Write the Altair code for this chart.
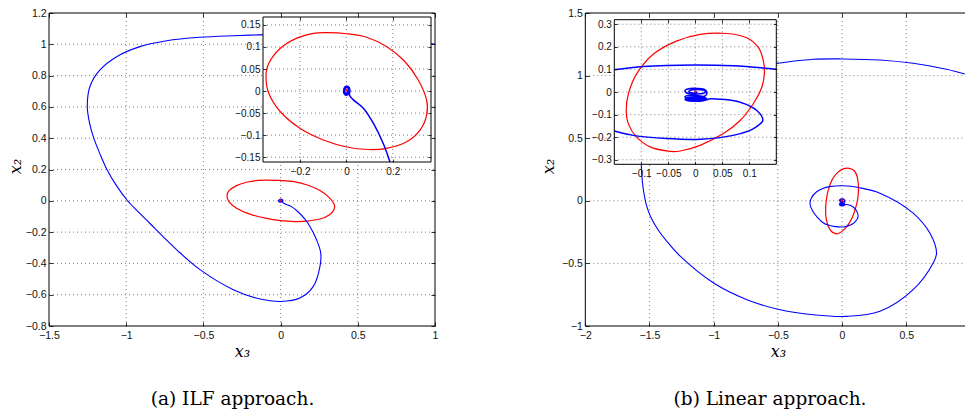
import altair as alt
import pandas as pd

W, H = 965, 412

# ---------------- panel (a): ILF approach ----------------
a_x_domain = [-1.5, 1]
a_y_domain = [-0.8, 1.2]
a_x_ticks = [-1.5, -1, -0.5, 0, 0.5, 1]
a_y_ticks = [-0.8, -0.6, -0.4, -0.2, 0, 0.2, 0.4, 0.6, 0.8, 1, 1.2]
a_in_x_domain = [-0.36, 0.365]
a_in_y_domain = [-0.161, 0.168]
a_in_x_ticks = [-0.2, 0, 0.2]
a_in_y_ticks = [-0.15, -0.1, -0.05, 0, 0.05, 0.1, 0.15]

a_traj_x = [1.0, 0.8, 0.6, 0.4, 0.2, 0.0, -0.15, -0.306, -0.522, -0.738, -0.911, -1.062,
            -1.17, -1.235, -1.252, -1.238, -1.21, -1.17, -1.125, -1.065, -0.995, -0.92,
            -0.846, -0.76, -0.673, -0.522, -0.306, -0.133, 0.0, 0.125, 0.212, 0.255, 0.26,
            0.233, 0.188, 0.159, 0.116, 0.073, 0.030, 0.013,
            0.015, 0.012, 0.003, -0.007, -0.012, -0.011, -0.004, 0.006, 0.012, 0.013, 0.008,
            -0.001, -0.009, -0.011, -0.007, 0.002, 0.009, 0.010, 0.005, -0.003, -0.007,
            -0.005, 0.001, 0.004, 0.001]
a_traj_y = [1.0, 1.03, 1.045, 1.055, 1.06, 1.062, 1.06, 1.055, 1.045, 1.023, 0.985, 0.921,
            0.836, 0.73, 0.602, 0.5, 0.4, 0.3, 0.2, 0.1, 0.005, -0.073,
            -0.145, -0.23, -0.313, -0.44, -0.568, -0.628, -0.643, -0.621, -0.547, -0.419, -0.334,
            -0.249, -0.161, -0.119, -0.073, -0.039, -0.020, -0.009,
            0.0, 0.008, 0.011, 0.009, 0.002, -0.005, -0.009, -0.008, -0.003, 0.004, 0.009,
            0.010, 0.006, -0.001, -0.007, -0.008, -0.004, 0.003, 0.007, 0.007, 0.002,
            -0.004, -0.005, -0.001, 0.002]
a_ell_x = [-0.085, 0.001, 0.087, 0.173, 0.252, 0.310, 0.346, 0.346, 0.317, 0.260, 0.173,
           0.095, 0.001, -0.099, -0.199, -0.285, -0.335, -0.347, -0.335, -0.285, -0.214, -0.142]
a_ell_y = [0.1326, 0.130, 0.122, 0.101, 0.067, 0.025, -0.020, -0.055, -0.089, -0.115, -0.130,
           -0.1326, -0.127, -0.111, -0.085, -0.047, -0.005, 0.033, 0.063, 0.097, 0.120, 0.131]
a_end_x = [0.0]
a_end_y = [0.002]

# ---------------- panel (b): Linear approach ----------------
b_x_domain = [-2, 1]
b_y_domain = [-1, 1.5]
b_x_ticks = [-2, -1.5, -1, -0.5, 0, 0.5]
b_y_ticks = [-1, -0.5, 0, 0.5, 1, 1.5]
b_in_x_domain = [-0.15, 0.15]
b_in_y_domain = [-0.32, 0.32]
b_in_x_ticks = [-0.1, -0.05, 0, 0.05, 0.1]
b_in_y_ticks = [-0.3, -0.2, -0.1, 0, 0.1, 0.2, 0.3]

b_traj_x = [0.956, 0.813, 0.554, 0.295, 0.0, -0.223, -0.51, -0.8, -1.1, -1.35, -1.5, -1.55,
            -1.563, -1.557, -1.545, -1.525, -1.49, -1.44, -1.36, -1.259, -1.0, -0.741, -0.482,
            -0.223, 0.036, 0.295, 0.554, 0.71, 0.736, 0.684, 0.554, 0.295, 0.15, 0.07, 0.0,
            -0.096, -0.15, -0.2, -0.24, -0.249, -0.23, -0.19, -0.15, -0.115, -0.053, 0.009,
            0.07, 0.107, 0.125, 0.114, 0.083, 0.046, 0.025,
            0.021, 0.012, -0.002, -0.015, -0.019, -0.012, 0.003, 0.017,
            0.021, 0.014, 0.0, -0.014, -0.018, -0.010, 0.005, 0.018,
            0.020, 0.012, -0.002, -0.016, -0.019, -0.012, 0.003, 0.017,
            0.021, 0.021, 0.016, 0.004, -0.010, -0.019, -0.017, -0.006, 0.009, 0.019,
            0.015, 0.003, -0.009, -0.012, -0.005, 0.003, 0.001]
b_traj_y = [1.013, 1.051, 1.098, 1.125, 1.133, 1.130, 1.098, 1.06, 0.98, 0.85, 0.65, 0.45,
            0.29, 0.17, 0.07, -0.03, -0.13, -0.221, -0.33, -0.444, -0.657, -0.79, -0.87,
            -0.91, -0.923, -0.883, -0.71, -0.497, -0.418, -0.258, -0.098, 0.061, 0.101, 0.116,
            0.12, 0.113, 0.098, 0.07, 0.02, -0.03, -0.08, -0.135, -0.173, -0.192, -0.206,
            -0.209, -0.192, -0.163, -0.126, -0.082, -0.045, -0.032, -0.031,
            -0.035, -0.040, -0.041, -0.038, -0.033, -0.029, -0.028, -0.030,
            -0.031, -0.036, -0.037, -0.034, -0.028, -0.023, -0.022, -0.025,
            -0.027, -0.031, -0.032, -0.028, -0.021, -0.016, -0.016, -0.019,
            -0.010, 0.002, 0.012, 0.016, 0.015, 0.007, -0.003, -0.009, -0.008, -0.001,
            0.008, 0.011, 0.008, 0.001, -0.004, -0.002, 0.002]
b_ell_x = [0.058, 0.095, 0.117, 0.126, 0.128, 0.123, 0.107, 0.083, 0.052, 0.009, -0.028,
           -0.050, -0.084, -0.109, -0.124, -0.128, -0.124, -0.109, -0.078, -0.035, 0.009]
b_ell_y = [0.259, 0.240, 0.196, 0.138, 0.086, 0.020, -0.053, -0.126, -0.184, -0.236, -0.261,
           -0.262, -0.243, -0.199, -0.141, -0.082, -0.009, 0.079, 0.167, 0.225, 0.255]
b_end_x = [0.0]
b_end_y = [0.003]

captions = ["(a) ILF approach.", "(b) Linear approach."]

# ---------------- layout (pixel frames of each plot box) ----------------
A_MAIN = {"x": (49, 435), "y": (13, 326)}
A_INSET = {"x": (263, 431), "y": (17, 162)}
B_MAIN = {"x": (585.3, 970.4), "y": (13, 326)}
B_INSET = {"x": (614.3, 776.3), "y": (19.7, 164.3)}

BLUE = "#0000ff"
RED = "#ff0000"
LABEL_FONT = "Liberation Sans"
MATH_FONT = "DejaVu Serif"


def curve_df(xs, ys, xd=None, yd=None):
    rows, seg, prev_in = [], 0, False
    for i, (x, y) in enumerate(zip(xs, ys)):
        inside = True
        if xd is not None:
            eps = 1e-9
            inside = (xd[0] - eps <= x <= xd[1] + eps) and (yd[0] - eps <= y <= yd[1] + eps)
        if inside:
            if not prev_in:
                seg += 1
            rows.append({"x": x, "y": y, "i": i, "seg": seg})
        prev_in = inside
    return pd.DataFrame(rows)


def make_view(xd, yd, fr, xt, yt, fs, curves, points, inset,
              xtitle="", ytitle="", xtitle_pos=None, ytitle_pos=None):
    x0, x1 = fr["x"]
    y0, y1 = fr["y"]
    xs = alt.Scale(domain=xd, range=[x0, x1], nice=False, zero=False)
    ys = alt.Scale(domain=yd, range=[y1, y0], nice=False, zero=False)
    frame = pd.DataFrame({"x0": [xd[0]], "x1": [xd[1]], "y0": [yd[0]], "y1": [yd[1]]})

    def X(f, axis=None):
        return alt.X(f, scale=xs, axis=axis)

    def Y(f, axis=None):
        return alt.Y(f, scale=ys, axis=axis)

    layers = []
    if inset:
        layers.append(alt.Chart(frame).mark_rect(fill="white").encode(
            x=X("x0:Q"), x2="x1:Q", y=Y("y0:Q"), y2="y1:Q"))

    # dotted grid
    gx = pd.DataFrame({"x": [v for v in xt if xd[0] < v < xd[1]]})
    gx["y0"], gx["y1"] = yd[0], yd[1]
    gy = pd.DataFrame({"y": [v for v in yt if yd[0] < v < yd[1]]})
    gy["x0"], gy["x1"] = xd[0], xd[1]
    grid = dict(color="#707070", strokeDash=[1, 3], strokeWidth=0.9)
    layers.append(alt.Chart(gx).mark_rule(**grid).encode(x=X("x:Q"), y=Y("y0:Q"), y2="y1:Q"))
    layers.append(alt.Chart(gy).mark_rule(**grid).encode(y=Y("y:Q"), x=X("x0:Q"), x2="x1:Q"))

    for df, kw in curves:
        layers.append(alt.Chart(df).mark_line(**kw).encode(
            x=X("x:Q"), y=Y("y:Q"), order="i:Q", detail="seg:N"))
    for df, kw in points:
        layers.append(alt.Chart(df).mark_point(**kw).encode(x=X("x:Q"), y=Y("y:Q")))

    # axes: labels + inward ticks on all four sides
    common = dict(domain=False, grid=False, zindex=1, title="")
    lab = dict(labelFont=LABEL_FONT, labelFontSize=fs, labelColor="#111", labelFlush=False,
               labelOverlap=False, format="~g", ticks=False, tickSize=0, labels=True)
    tk = dict(labels=False, ticks=True, tickSize=4 if not inset else 3, tickColor="#000",
              tickWidth=0.8)
    xt_kw = dict(common)
    yt_kw = dict(common)
    if xtitle:
        xt_kw.update(title=xtitle, titleFont=MATH_FONT, titleFontStyle="italic",
                     titleFontWeight="normal", titleFontSize=16, titleColor="#000",
                     titleX=xtitle_pos[0], titleY=xtitle_pos[1], titleAlign="center",
                     titleBaseline="middle")
    if ytitle:
        yt_kw.update(title=ytitle, titleFont=MATH_FONT, titleFontStyle="italic",
                     titleFontWeight="normal", titleFontSize=16, titleColor="#000",
                     titleX=ytitle_pos[0], titleY=ytitle_pos[1], titleAlign="center",
                     titleBaseline="middle", titleAngle=270)
    ax_sets = [
        (alt.Axis(orient="bottom", offset=y1 - H, values=xt, labelPadding=4, **lab, **xt_kw),
         alt.Axis(orient="left", offset=-x0, values=yt, labelPadding=3, **lab, **yt_kw)),
        (alt.Axis(orient="top", offset=-y1, values=xt, **tk, **common),
         alt.Axis(orient="right", offset=x0 - W, values=yt, **tk, **common)),
        (alt.Axis(orient="bottom", offset=y0 - H, values=xt, **tk, **common),
         alt.Axis(orient="left", offset=-x1, values=yt, **tk, **common)),
    ]
    for k, (ax, ay) in enumerate(ax_sets):
        layers.append(alt.Chart(frame).mark_rect(
            fillOpacity=0, stroke="#000", strokeWidth=1.0 if k == 0 else 0,
            strokeOpacity=1 if k == 0 else 0).encode(
            x=X("x0:Q", ax), x2="x1:Q", y=Y("y0:Q", ay), y2="y1:Q"))
    return alt.layer(*layers).resolve_axis(x="independent", y="independent")


line_main_b = dict(color=BLUE, strokeWidth=1.1, interpolate="catmull-rom")
line_in_b = dict(color=BLUE, strokeWidth=1.5, interpolate="catmull-rom")
line_red = dict(color=RED, strokeWidth=1.2, interpolate="cardinal-closed")
dot = dict(color=RED, filled=True, size=6, opacity=1, shape="square")

A_main = make_view(
    a_x_domain, a_y_domain, A_MAIN, a_x_ticks, a_y_ticks, 10.5,
    [(curve_df(a_ell_x, a_ell_y), line_red), (curve_df(a_traj_x, a_traj_y), line_main_b)],
    [(curve_df(a_end_x, a_end_y), dot)], False,
    xtitle="x₃", ytitle="x₂", xtitle_pos=(242, 25), ytitle_pos=(-34, 166))
A_in = make_view(
    a_in_x_domain, a_in_y_domain, A_INSET, a_in_x_ticks, a_in_y_ticks, 10,
    [(curve_df(a_ell_x, a_ell_y), line_red),
     (curve_df(a_traj_x, a_traj_y, a_in_x_domain, a_in_y_domain), line_in_b)],
    [(curve_df(a_end_x, a_end_y), dict(dot, size=5))], True)
B_main = make_view(
    b_x_domain, b_y_domain, B_MAIN, b_x_ticks, b_y_ticks, 10.5,
    [(curve_df(b_ell_x, b_ell_y), line_red), (curve_df(b_traj_x, b_traj_y), line_main_b)],
    [(curve_df(b_end_x, b_end_y), dot)], False,
    xtitle="x₃", ytitle="x₂", xtitle_pos=(778, 25), ytitle_pos=(-37, 166))
B_in = make_view(
    b_in_x_domain, b_in_y_domain, B_INSET, b_in_x_ticks, b_in_y_ticks, 10,
    [(curve_df(b_ell_x, b_ell_y), line_red),
     (curve_df(b_traj_x, b_traj_y, b_in_x_domain, b_in_y_domain), line_in_b)],
    [(curve_df(b_end_x, b_end_y), dict(dot, size=4))], True)

cap_kw = dict(font=MATH_FONT, fontSize=18.5, color="#000", align="center", baseline="middle")
cap_a = alt.Chart(pd.DataFrame({"t": [captions[0]]})).mark_text(**cap_kw).encode(
    text="t:N", x=alt.value(232.5), y=alt.value(399))
cap_b = alt.Chart(pd.DataFrame({"t": [captions[1]]})).mark_text(**cap_kw).encode(
    text="t:N", x=alt.value(770), y=alt.value(399))

chart = alt.layer(A_main, A_in, B_main, B_in, cap_a, cap_b).resolve_scale(
    x="independent", y="independent"
).properties(
    width=W, height=H, autosize=alt.AutoSizeParams(type="none"), padding=0,
    background="white"
).configure_view(strokeWidth=0)

chart.save("out.html", embed_options={"renderer": "svg", "actions": False})
